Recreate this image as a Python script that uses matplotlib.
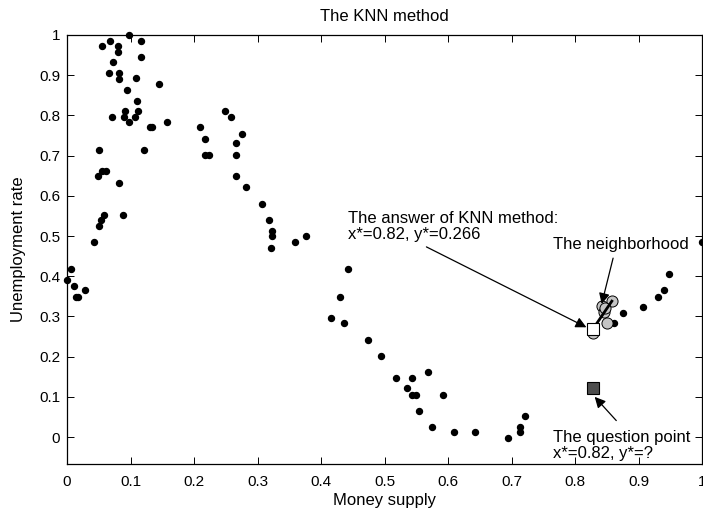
import matplotlib
matplotlib.use("Agg")
import matplotlib.pyplot as plt

plt.rcParams['font.family'] = ['Liberation Sans', 'DejaVu Sans']

# data points (money supply, unemployment rate)
money = [0.098, 0.067, 0.055, 0.117, 0.080, 0.080, 0.117, 0.073, 0.066, 0.082,
         0.082, 0.109, 0.145, 0.094, 0.111, 0.092, 0.112, 0.071, 0.090, 0.107,
         0.098, 0.158, 0.130, 0.134, 0.051, 0.121, 0.055, 0.061, 0.049, 0.082,
         0.059, 0.088, 0.053, 0.051, 0.043, 0.007, 0.000, 0.011, 0.028, 0.014,
         0.018,
         0.249, 0.259, 0.210, 0.276, 0.218, 0.266, 0.218, 0.224, 0.266, 0.266,
         0.282, 0.307, 0.318, 0.323, 0.323, 0.321, 0.359, 0.377,
         0.443, 0.430, 0.416, 0.437, 0.474, 0.494, 0.518, 0.544, 0.569, 0.536,
         0.544, 0.550, 0.592, 0.554, 0.575, 0.610, 0.643, 0.695, 0.713, 0.713,
         0.722,
         0.862, 0.876, 0.907, 0.930, 0.940, 0.948, 1.000,
         0.858, 0.842, 0.845]
unemp = [1.000, 0.986, 0.973, 0.986, 0.973, 0.958, 0.945, 0.933, 0.905, 0.905,
         0.891, 0.892, 0.877, 0.864, 0.836, 0.812, 0.812, 0.795, 0.795, 0.795,
         0.784, 0.784, 0.771, 0.771, 0.715, 0.715, 0.662, 0.662, 0.649, 0.633,
         0.552, 0.552, 0.540, 0.526, 0.486, 0.417, 0.390, 0.376, 0.365, 0.348,
         0.348,
         0.811, 0.795, 0.771, 0.755, 0.742, 0.731, 0.702, 0.702, 0.702, 0.649,
         0.621, 0.580, 0.539, 0.512, 0.499, 0.471, 0.486, 0.499,
         0.417, 0.348, 0.295, 0.284, 0.242, 0.201, 0.146, 0.146, 0.161, 0.121,
         0.105, 0.105, 0.105, 0.065, 0.024, 0.012, 0.012, -0.002, 0.012, 0.024,
         0.052,
         0.283, 0.308, 0.323, 0.348, 0.365, 0.405, 0.486,
         0.338, 0.326, 0.310]

# neighbourhood of the question point
nb_x = [0.828, 0.858, 0.842, 0.845, 0.848, 0.851]
nb_y = [0.259, 0.338, 0.326, 0.310, 0.321, 0.284]

answer_x, answer_y = 0.828, 0.268
question_x, question_y = 0.829, 0.121

tick_labels = ['0', '0.1', '0.2', '0.3', '0.4', '0.5', '0.6', '0.7',
               '0.8', '0.9', '1']

fig = plt.figure(figsize=(7.03, 5.13), dpi=100)
ax = fig.add_axes([67 / 703, 49 / 513, 635 / 703, 429 / 513])

ax.plot(money, unemp, 'o', color='k', markersize=4.3, clip_on=False)
ax.plot(nb_x, nb_y, 'o', markerfacecolor='#c4c4c4', markeredgecolor='k',
        markeredgewidth=0.7, markersize=8)
ax.plot([answer_x, nb_x[1]], [answer_y, nb_y[1]], '-', color='k', lw=2)
ax.plot(answer_x, answer_y, 's', markerfacecolor='w', markeredgecolor='k',
        markeredgewidth=0.8, markersize=8)
ax.plot(question_x, question_y, 's', markerfacecolor='#4d4d4d',
        markeredgecolor='k', markeredgewidth=0.8, markersize=8)

arrow = dict(arrowstyle='-|>', color='k', lw=0.9, mutation_scale=16,
             shrinkA=0, shrinkB=0)
ax.annotate('', xy=(0.818, 0.273), xytext=(0.566, 0.473), arrowprops=arrow)
ax.annotate('', xy=(0.842, 0.331), xytext=(0.860, 0.445), arrowprops=arrow)
ax.annotate('', xy=(0.831, 0.100), xytext=(0.865, 0.041), arrowprops=arrow)

ax.text(0.443, 0.524, 'The answer of KNN method:\nx*=0.82, y*=0.266',
        fontsize=12, va='center', ha='left', linespacing=1.1)
ax.text(0.765, 0.478, 'The neighborhood', fontsize=12, va='center', ha='left')
ax.text(0.765, -0.021, 'The question point\nx*=0.82, y*=?', fontsize=12,
        va='center', ha='left', linespacing=1.1)

ax.set_xlim(0, 1)
ax.set_ylim(-0.067, 1.0)
ax.set_xticks([i / 10 for i in range(11)])
ax.set_xticklabels(tick_labels)
ax.set_yticks([i / 10 for i in range(11)])
ax.set_yticklabels(tick_labels)
ax.tick_params(direction='in', top=True, right=True, length=5, width=0.7,
               labelsize=11)
ax.tick_params(axis='x', pad=8)
ax.tick_params(axis='y', pad=5)
for s in ax.spines.values():
    s.set_linewidth(0.9)

ax.set_title('The KNN method', fontsize=12, pad=10)
ax.set_xlabel('Money supply', fontsize=12, labelpad=3)
ax.set_ylabel('Unemployment rate', fontsize=12, labelpad=9)

fig.savefig('out.png', dpi=100)
